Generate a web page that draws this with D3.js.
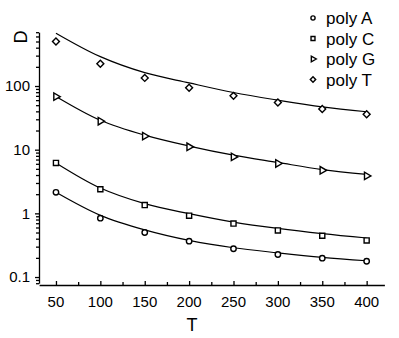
<!DOCTYPE html>
<html>
<head>
  <script src="https://d3js.org/d3.v7.min.js"></script>
  <style>
    body { margin: 0; background: #fff; }
    svg { font-family: "Liberation Sans", Arial, sans-serif; }
    .axis path, .axis line { stroke: #000; stroke-width: 1.3; fill: none; }
    .fit { fill: none; stroke: #000; stroke-width: 1.2; }
    .mark { fill: #fff; stroke: #000; stroke-width: 1.4; }
  </style>
</head>
<body>
  <div id="chart"></div>
  <script>
    // measured points
    var temps = [50, 100, 150, 200, 250, 300, 350, 400];
    var polyA = [2.14, 0.84, 0.50, 0.366, 0.278, 0.226, 0.198, 0.177];
    var polyC = [6.2, 2.39, 1.35, 0.92, 0.69, 0.54, 0.445, 0.376];
    var polyG = [68, 28, 16.3, 11.1, 7.7, 6.07, 4.75, 3.87];
    var polyT = [499, 224, 134, 94, 70, 55, 43.5, 36];

    // fitted curves at the same T values
    var fitA = [2.14, 0.93, 0.55, 0.376, 0.288, 0.24, 0.204, 0.18];
    var fitC = [6.2, 2.5, 1.42, 0.99, 0.73, 0.58, 0.48, 0.41];
    var fitG = [68.7, 29, 16.9, 11.4, 8.2, 6.3, 4.87, 4.1];
    var fitT = [676, 289, 162, 112, 79, 60, 47, 39.4];

    var seriesNames = ["poly A", "poly C", "poly G", "poly T"];
    var xTicks = [50, 100, 150, 200, 250, 300, 350, 400];
    var yTicks = [0.1, 1, 10, 100];

    var w = 399, h = 338;
    var svg = d3.select("#chart").append("svg").attr("width", w).attr("height", h);

    var x = d3.scaleLinear().domain([31, 420]).range([39.1, 384.4]);
    var y = d3.scaleLog().domain([0.08, 700]).range([283.2, 32.2]);

    // y axis, log
    var yMinor = [];
    [0.01, 0.1, 1, 10, 100].forEach(function(d) {
      for (var k = 2; k <= 9; k++) {
        var v = d * k;
        if (v >= 0.08 && v <= 700) yMinor.push(v);
      }
    });
    svg.append("g").attr("class", "axis")
      .attr("transform", "translate(39,0)")
      .call(d3.axisLeft(y).tickValues(yMinor).tickSize(3).tickFormat(""))
      .call(g => g.select(".domain").remove());
    var yAxis = svg.append("g").attr("class", "axis")
      .attr("transform", "translate(39,0)")
      .call(d3.axisLeft(y).tickValues(yTicks).tickSize(4).tickSizeOuter(0).tickPadding(5)
        .tickFormat(d => d < 1 ? "0.1" : d3.format("d")(d)));
    yAxis.selectAll("text").style("font-size", "15px").attr("fill", "#000");

    // x axis, ticks pointing inward
    var xMinor = [75, 125, 175, 225, 275, 325, 375];
    svg.append("g").attr("class", "axis")
      .attr("transform", "translate(0,285)")
      .call(d3.axisTop(x).tickValues(xMinor).tickSize(3).tickFormat(""))
      .call(g => g.select(".domain").remove());
    svg.append("g").attr("class", "axis")
      .attr("transform", "translate(0,285)")
      .call(d3.axisTop(x).tickValues(xTicks).tickSize(4).tickSizeOuter(0).tickFormat(""));
    svg.append("g")
      .selectAll("text").data(xTicks).enter().append("text")
      .attr("x", d => x(d))
      .attr("y", 307)
      .attr("text-anchor", "middle")
      .style("font-size", "15px")
      .text(d => d);

    svg.append("text").attr("x", 192).attr("y", 331)
      .attr("text-anchor", "middle").style("font-size", "18px").text("T");
    svg.append("text")
      .attr("transform", "translate(27,37) rotate(-90)")
      .attr("text-anchor", "middle").style("font-size", "18px").text("D");

    var line = d3.line()
      .x((d, i) => x(temps[i]))
      .y(d => y(d))
      .curve(d3.curveCatmullRom.alpha(0.5));

    var fits = [fitA, fitC, fitG, fitT];
    var points = [polyA, polyC, polyG, polyT];

    svg.selectAll(".fit").data(fits).enter().append("path")
      .attr("class", "fit")
      .attr("d", d => line(d));

    // marker shapes
    var shapes = [
      { type: d3.symbolCircle, size: 23, rot: 0 },
      { type: d3.symbolSquare, size: 26, rot: 0 },
      { type: d3.symbolTriangle, size: 24, rot: 90 },
      { type: d3.symbolSquare, size: 24, rot: 45 }
    ];

    points.forEach(function(vals, s) {
      var sh = shapes[s];
      svg.append("g").selectAll("path").data(vals).enter().append("path")
        .attr("class", "mark")
        .attr("d", d3.symbol().type(sh.type).size(sh.size))
        .attr("transform", (d, i) => "translate(" + x(temps[i]) + "," + y(d) + ") rotate(" + sh.rot + ")");
    });

    // legend
    var legend = svg.append("g");
    seriesNames.forEach(function(name, s) {
      var sh = shapes[s];
      var ly = 18 + s * 20.5;
      legend.append("path")
        .attr("class", "mark")
        .attr("d", d3.symbol().type(sh.type).size(sh.size * 0.6))
        .attr("transform", "translate(313," + ly + ") rotate(" + sh.rot + ")");
      legend.append("text")
        .attr("x", 326).attr("y", ly + 6)
        .style("font-size", "17px")
        .text(name);
    });
  </script>
</body>
</html>
